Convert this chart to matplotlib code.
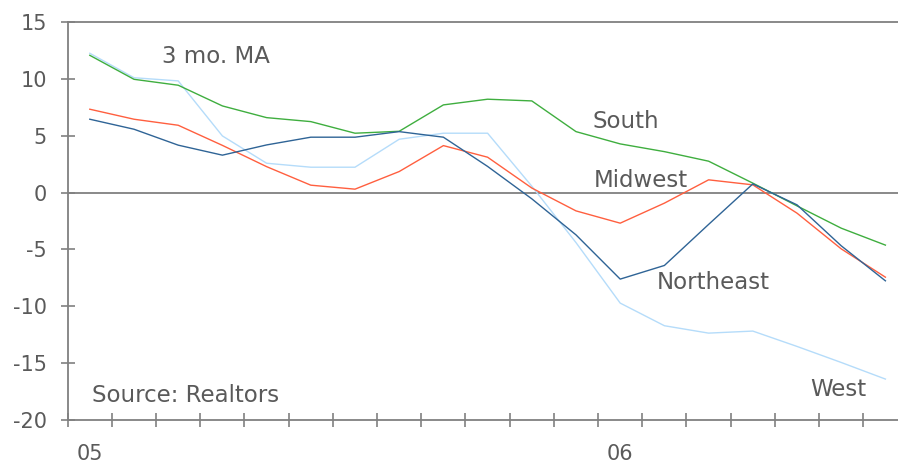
import matplotlib
matplotlib.use("Agg")
import matplotlib.pyplot as plt
import numpy as np

months = list(range(19))  # Jan 05 .. Jul 06
x_labels = {0: "05", 12: "06"}

south = [12.07, 9.96, 9.44, 7.62, 6.59, 6.24, 5.22, 5.39, 7.71, 8.21, 8.06,
         5.36, 4.28, 3.60, 2.76, 0.83, -1.17, -3.13, -4.62]
midwest = [7.33, 6.45, 5.92, 4.15, 2.28, 0.65, 0.30, 1.85, 4.13, 3.11, 0.40,
           -1.61, -2.69, -0.93, 1.12, 0.68, -1.81, -4.95, -7.44]
northeast = [6.45, 5.57, 4.17, 3.29, 4.19, 4.87, 4.87, 5.36, 4.87, 2.30, -0.55,
             -3.72, -7.61, -6.41, -2.80, 0.76, -1.08, -4.68, -7.76]
west = [12.25, 10.10, 9.82, 4.98, 2.58, 2.23, 2.23, 4.69, 5.22, 5.22, 0.56,
        -4.40, -9.72, -11.71, -12.36, -12.18, -13.53, -14.94, -16.40]

TXT = "#5a5a5a"
AX = "#808080"
plt.rcParams['font.family'] = ['DejaVu Sans']

fig = plt.figure(figsize=(8.98, 4.67), dpi=100)
ax = fig.add_axes([67.7/898, 1-420/467, (907.5-67.7)/898, (420-22)/467])

ax.plot(months, west, color="#b5dcfa", lw=1.0)
ax.plot(months, south, color="#3fae3f", lw=1.0)
ax.plot(months, midwest, color="#ff5f3f", lw=1.0)
ax.plot(months, northeast, color="#2f6496", lw=1.0)

ax.axhline(0, color=AX, lw=1.3, zorder=0)

ax.set_xlim(-0.5, 18.5)
ax.set_ylim(-20, 15)
ax.set_yticks(np.arange(-20, 16, 5))
ax.set_yticklabels([str(v) for v in range(-20, 16, 5)])
ax.set_xticks(np.arange(-0.5, 18.5, 1.0))
ax.set_xticklabels([])
ax.set_xticks(list(x_labels.keys()), minor=True)
ax.set_xticklabels(list(x_labels.values()), minor=True)

ax.tick_params(axis='both', which='major', direction='inout', length=10,
               width=1.2, color=AX, labelcolor=TXT, labelsize=15)
ax.tick_params(axis='y', pad=10)
ax.tick_params(axis='x', which='minor', length=0, pad=17, labelcolor=TXT,
               labelsize=15)

for s in ['left', 'bottom', 'top']:
    ax.spines[s].set_color(AX)
    ax.spines[s].set_linewidth(1.3)
ax.spines['right'].set_visible(False)

def lab(px, py, s):
    fig.text(px/898, 1-py/467, s, color=TXT, fontsize=16.5, ha='left',
             va='baseline')

lab(162, 63, "3 mo. MA")
lab(593, 128, "South")
lab(594, 187, "Midwest")
lab(657, 289, "Northeast")
lab(810, 396, "West")
lab(92, 402, "Source: Realtors")

fig.savefig("out.png", dpi=100)
